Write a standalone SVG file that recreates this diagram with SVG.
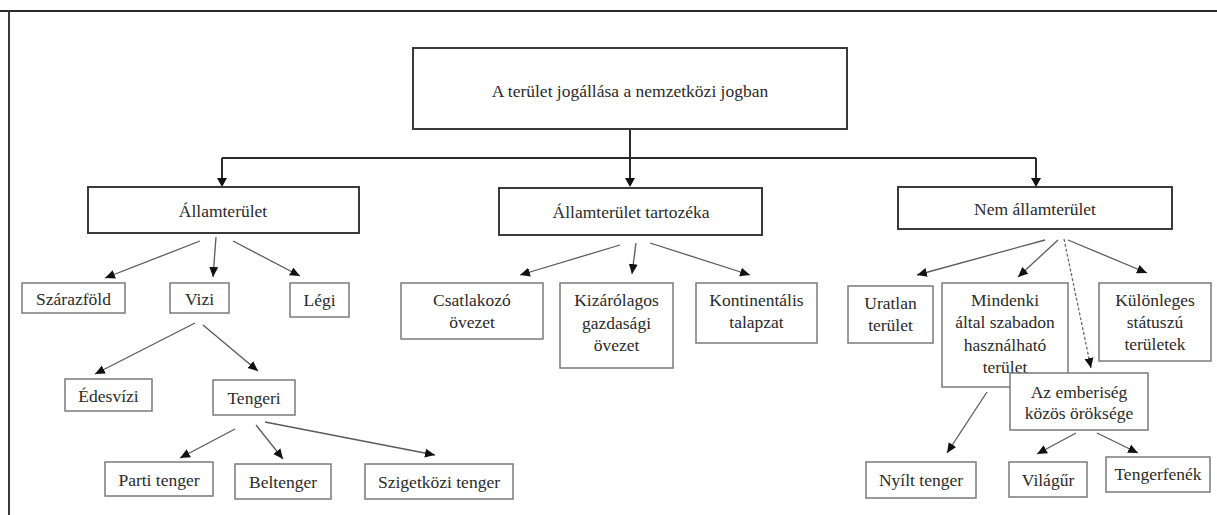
<svg xmlns="http://www.w3.org/2000/svg" width="1217" height="515" viewBox="0 0 1217 515">
<style>
text{font-size:17.5px;fill:#2a2a2a;text-anchor:middle}
.main{fill:#fff;stroke:#3a3a3a;stroke-width:2}
.box{fill:#fff;stroke:#7a7a7a;stroke-width:1.5}
.trunk{fill:none;stroke:#2a2a2a;stroke-width:2}
.ln{fill:none;stroke:#5a5a5a;stroke-width:1.3}
.dash{fill:none;stroke:#6a6a6a;stroke-width:1.3;stroke-dasharray:3 2}
</style>
<defs>
<marker id="ah" markerWidth="12" markerHeight="12" refX="10" refY="5" orient="auto" markerUnits="userSpaceOnUse">
<path d="M0,0.5 L10,5 L0,9.5 Z" fill="#111"/>
</marker>
</defs>
<rect width="1217" height="515" fill="#fff"/>
<g id="frame">
<line x1="0" y1="11" x2="1217" y2="11" stroke="#2a2a2a" stroke-width="2"/>
<line x1="9" y1="11" x2="9" y2="515" stroke="#3a3a3a" stroke-width="2"/>
</g>
<g id="connectors">
<path class="trunk" d="M630,129 V178"/>
<path class="trunk" d="M222,158 H1036"/>
<path class="trunk" d="M222,158 V178"/>
<path class="trunk" d="M1036,158 V178"/>
<path d="M217,178 L222,187 L227,178 Z M625,178 L630,187 L635,178 Z M1031,178 L1036,187 L1041,178 Z" fill="#111"/>
<line class="ln" x1="200" y1="241" x2="105" y2="278" marker-end="url(#ah)"/>
<line class="ln" x1="216" y1="237" x2="213" y2="277" marker-end="url(#ah)"/>
<line class="ln" x1="233" y1="241" x2="300" y2="276" marker-end="url(#ah)"/>
<line class="ln" x1="195" y1="323" x2="95" y2="374" marker-end="url(#ah)"/>
<line class="ln" x1="203" y1="325" x2="258" y2="371" marker-end="url(#ah)"/>
<line class="ln" x1="235" y1="429" x2="180" y2="458" marker-end="url(#ah)"/>
<line class="ln" x1="256" y1="425" x2="283" y2="459" marker-end="url(#ah)"/>
<line class="ln" x1="265" y1="422" x2="435" y2="455" marker-end="url(#ah)"/>
<line class="ln" x1="620" y1="245" x2="520" y2="275" marker-end="url(#ah)"/>
<line class="ln" x1="636" y1="243" x2="632" y2="274" marker-end="url(#ah)"/>
<line class="ln" x1="650" y1="243" x2="750" y2="275" marker-end="url(#ah)"/>
<line class="ln" x1="1045" y1="240" x2="917" y2="275" marker-end="url(#ah)"/>
<line class="ln" x1="1058" y1="240" x2="1018" y2="277" marker-end="url(#ah)"/>
<line class="dash" x1="1064" y1="239" x2="1091" y2="368" marker-end="url(#ah)"/>
<line class="ln" x1="1068" y1="240" x2="1147" y2="273" marker-end="url(#ah)"/>
<line class="ln" x1="987" y1="392" x2="947" y2="453" marker-end="url(#ah)"/>
<line class="ln" x1="1076" y1="433" x2="1037" y2="454" marker-end="url(#ah)"/>
<line class="ln" x1="1097" y1="433" x2="1138" y2="453" marker-end="url(#ah)"/>
</g>
<g id="nodes" font-family="Liberation Serif, serif">
<g id="n-root"><rect class="main" x="413" y="48" width="434" height="81"/><text x="630" y="97">A terület jogállása a nemzetközi jogban</text></g>
<g id="n-allamterulet"><rect class="main" x="88" y="187" width="271" height="46"/><text x="223" y="217">Államterület</text></g>
<g id="n-tartozek"><rect class="main" x="499" y="188" width="263" height="47"/><text x="631" y="218">Államterület tartozéka</text></g>
<g id="n-nem"><rect class="main" x="898" y="187" width="274" height="42"/><text x="1035" y="215">Nem államterület</text></g>
<g id="n-szarazfold"><rect class="box" x="22" y="283" width="103" height="30"/><text x="73.5" y="305">Szárazföld</text></g>
<g id="n-vizi"><rect class="box" x="170" y="283" width="59" height="30"/><text x="199.5" y="305">Vizi</text></g>
<g id="n-legi"><rect class="box" x="290" y="283" width="59" height="34"/><text x="319.5" y="306">Légi</text></g>
<g id="n-edesvizi"><rect class="box" x="65" y="379" width="87" height="32"/><text x="108.5" y="402">Édesvízi</text></g>
<g id="n-tengeri"><rect class="box" x="213" y="380" width="82" height="35"/><text x="254" y="404">Tengeri</text></g>
<g id="n-parti"><rect class="box" x="105" y="462" width="108" height="34"/><text x="159" y="486">Parti tenger</text></g>
<g id="n-beltenger"><rect class="box" x="235" y="464" width="96" height="35"/><text x="283" y="488">Beltenger</text></g>
<g id="n-szigetkozi"><rect class="box" x="365" y="464" width="148" height="35"/><text x="439" y="488">Szigetközi tenger</text></g>
<g id="n-csatlakozo"><rect class="box" x="401" y="283" width="142" height="56"/><text x="472" y="306">Csatlakozó</text><text x="472" y="328">övezet</text></g>
<g id="n-kizarolagos"><rect class="box" x="560" y="283" width="113" height="85"/><text x="616.5" y="306">Kizárólagos</text><text x="616.5" y="329">gazdasági</text><text x="616.5" y="351">övezet</text></g>
<g id="n-kontinentalis"><rect class="box" x="696" y="283" width="121" height="60"/><text x="756.5" y="306">Kontinentális</text><text x="756.5" y="328">talapzat</text></g>
<g id="n-uratlan"><rect class="box" x="848" y="286" width="85" height="57"/><text x="890.5" y="309">Uratlan</text><text x="890.5" y="331">terület</text></g>
<g id="n-mindenki"><rect class="box" x="942" y="283" width="126" height="104"/><text x="1005" y="306">Mindenki</text><text x="1005" y="328">által szabadon</text><text x="1005" y="351">használható</text><text x="1005" y="373">terület</text></g>
<g id="n-kulonleges"><rect class="box" x="1099" y="283" width="112" height="78"/><text x="1155" y="306">Különleges</text><text x="1155" y="328">státuszú</text><text x="1155" y="350">területek</text></g>
<g id="n-emberiseg"><rect class="box" x="1010" y="373" width="138" height="57"/><text x="1079" y="398">Az emberiség</text><text x="1079" y="419">közös öröksége</text></g>
<g id="n-nyilt"><rect class="box" x="866" y="462" width="110" height="36"/><text x="921" y="486">Nyílt tenger</text></g>
<g id="n-vilagur"><rect class="box" x="1009" y="462" width="78" height="35"/><text x="1048" y="486">Világűr</text></g>
<g id="n-tengerfenek"><rect class="box" x="1106" y="457" width="104" height="35"/><text x="1158" y="480">Tengerfenék</text></g>
</g>
</svg>
